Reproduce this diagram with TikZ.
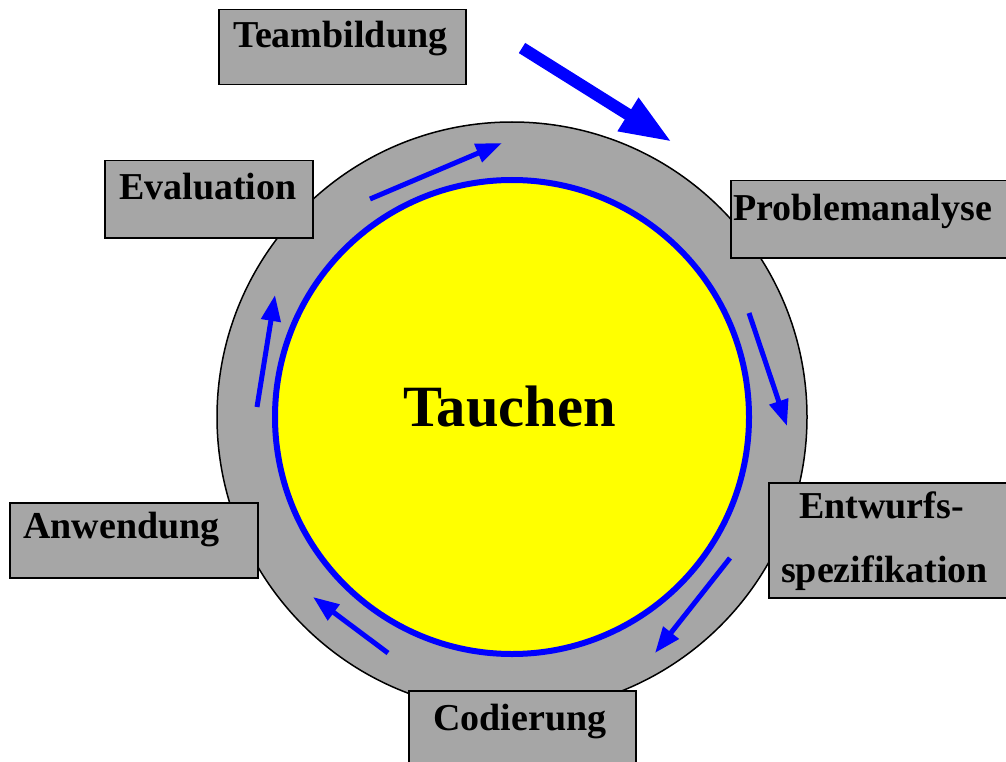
\documentclass[tikz,border=0pt]{standalone}
\usepackage{fontspec}
\setmainfont{Liberation Serif}
\usetikzlibrary{arrows.meta}
\definecolor{ringgray}{RGB}{166,166,166}
\definecolor{pureblue}{RGB}{0,0,255}
\definecolor{pureyellow}{RGB}{255,255,0}
\begin{document}
\begin{tikzpicture}[x=1pt,y=-1pt,
  box/.style={draw=black, line width=1.5pt, fill=ringgray, rectangle, inner sep=0pt, anchor=north west},
  lbl/.style={inner sep=0pt, anchor=base west, font=\fontsize{38}{41}\selectfont\bfseries},
  flow/.style={draw=pureblue, line width=5pt, -{Triangle[length=26pt,width=19pt]}},
  bigflow/.style={draw=pureblue, line width=12pt, -{Triangle[length=52pt,width=36pt]}}]
\useasboundingbox (0,0) rectangle (1006,762);
\clip (0,0) rectangle (1006,762);
% rings
\node[circle, draw=black, line width=1.5pt, fill=ringgray, minimum size=590pt, inner sep=0pt] (ring) at (512,417) {};
\node[circle, draw=pureblue, line width=6pt, fill=pureyellow, minimum size=474pt, inner sep=0pt] (core) at (512,417) {};
\node[inner sep=0pt, anchor=base west, font=\fontsize{58.5}{62}\selectfont\bfseries] (tTauchen) at (403,426) {Tauchen};
% boxes
\node[box, minimum width=247pt, minimum height=75pt] (bTeam) at (218,9) {};
\node[box, minimum width=208pt, minimum height=77pt] (bEval) at (104,160) {};
\node[box, minimum width=290pt, minimum height=77pt] (bProb) at (730,180) {};
\node[box, minimum width=250pt, minimum height=115pt] (bEntw) at (768,482) {};
\node[box, minimum width=248pt, minimum height=75pt] (bAnw) at (9,502) {};
\node[box, minimum width=227pt, minimum height=90pt] (bCod) at (408,690) {};
% labels
\node[lbl] (tTeam) at (233,48) {Teambildung};
\node[lbl] (tEval) at (119,200) {Evaluation};
\node[lbl] (tProb) at (733,220) {Problemanalyse};
\node[lbl] (tEntw1) at (799,518) {Entwurfs-};
\node[lbl] (tEntw2) at (781,582) {spezifikation};
\node[lbl] (tAnw) at (23,538) {Anwendung};
\node[lbl] (tCod) at (433,730) {Codierung};
% arrow end points
\coordinate (bigS) at (522,48);
\coordinate (bigE) at (672,142);
\coordinate (a1S) at (370,199);
\coordinate (a1E) at (502,143);
\coordinate (a2S) at (749,313);
\coordinate (a2E) at (787,426);
\coordinate (a3S) at (730,558);
\coordinate (a3E) at (655,653);
\coordinate (a4S) at (388,653);
\coordinate (a4E) at (313,597);
\coordinate (a5S) at (257,407);
\coordinate (a5E) at (275,295);
% arrows
\draw[bigflow] (bigS) -- (bigE);
\draw[flow] (a1S) -- (a1E);
\draw[flow] (a2S) -- (a2E);
\draw[flow] (a3S) -- (a3E);
\draw[flow] (a4S) -- (a4E);
\draw[flow] (a5S) -- (a5E);
\end{tikzpicture}
\end{document}
